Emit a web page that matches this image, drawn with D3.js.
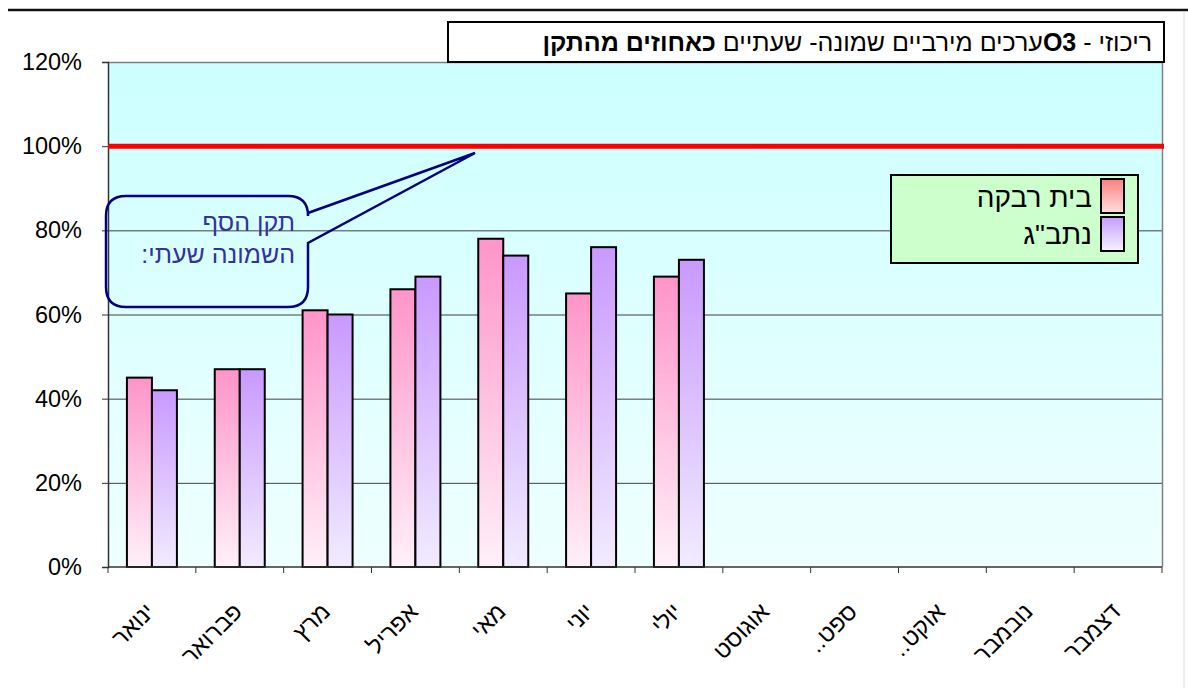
<!DOCTYPE html>
<html>
<head>
<meta charset="utf-8">
<script src="https://cdn.jsdelivr.net/npm/d3@7"></script>
<style>
body { margin: 0; background: white; }
svg { display: block; font-family: Arial, "Liberation Sans", "DejaVu Sans", sans-serif; }
</style>
</head>
<body>
<script>
// data
const months = ["ינואר", "פברואר", "מרץ", "אפריל", "מאי", "יוני", "יולי", "אוגוסט", "ספט..", "אוקט..", "נובמבר", "דצמבר"];
const seriesNames = ["בית רבקה", "נתב\"ג"];
const beitRivka = [0.45, 0.47, 0.61, 0.66, 0.78, 0.65, 0.69, null, null, null, null, null];
const natbag = [0.42, 0.47, 0.60, 0.69, 0.74, 0.76, 0.73, null, null, null, null, null];
const yTicks = [0, 0.2, 0.4, 0.6, 0.8, 1.0, 1.2];
const standard = 1.0;

const width = 1188, height = 688;
const margin = {top: 62, right: 26, bottom: 121, left: 108};

const svg = d3.select("body").append("svg").attr("width", width).attr("height", height);
const defs = svg.append("defs");

function vGrad(id, top, bottom) {
    const g = defs.append("linearGradient").attr("id", id)
        .attr("x1", 0).attr("y1", 0).attr("x2", 0).attr("y2", 1);
    g.append("stop").attr("offset", "0%").attr("stop-color", top);
    g.append("stop").attr("offset", "100%").attr("stop-color", bottom);
}
vGrad("bgGrad", "#ccffff", "#efffff");
vGrad("pinkGrad", "#ff94c9", "#fff0f8");
vGrad("purpleGrad", "#c999ff", "#f1ebff");
vGrad("pinkLeg", "#ff7f7f", "#ffdede");
vGrad("purpleLeg", "#c59cff", "#f6f2ff");

const x0 = margin.left, x1 = width - margin.right;
const y0 = height - margin.bottom, y1 = margin.top;

const xScale = d3.scaleBand().domain(months).range([x0, x1]);
const yScale = d3.scaleLinear().domain([0, 1.2]).range([y0, y1]);

// top rule of the page
svg.append("line").attr("x1", 8).attr("x2", width).attr("y1", 10).attr("y2", 10)
    .attr("stroke", "#111").attr("stroke-width", 2.5);
svg.append("line").attr("x1", 1184).attr("x2", 1184).attr("y1", 11).attr("y2", height)
    .attr("stroke", "#ddd").attr("stroke-width", 1);

// plot background
svg.append("rect").attr("x", x0).attr("y", y1).attr("width", x1 - x0).attr("height", y0 - y1)
    .attr("fill", "url(#bgGrad)");

// grid lines
svg.append("g").selectAll("line").data(yTicks.filter(d => d > 0 && d < 1.2)).join("line")
    .attr("x1", x0).attr("x2", x1)
    .attr("y1", d => yScale(d) + 0.5).attr("y2", d => yScale(d) + 0.5)
    .attr("stroke", "#404040").attr("stroke-width", 1);

// plot border top / right
svg.append("path")
    .attr("d", `M${x0},${y1 + 0.5}H${x1 + 0.5}V${y0}`)
    .attr("fill", "none").attr("stroke", "#808080").attr("stroke-width", 1.5);

// bars
const barW = 25;
const series = [
    {vals: beitRivka, fill: "url(#pinkGrad)", off: -barW},
    {vals: natbag, fill: "url(#purpleGrad)", off: 0}
];
series.forEach(s => {
    const data = months.map((m, i) => ({m: m, v: s.vals[i]})).filter(d => d.v != null);
    svg.append("g").selectAll("rect").data(data).join("rect")
        .attr("x", d => xScale(d.m) + xScale.bandwidth() / 2 + s.off)
        .attr("y", d => yScale(d.v))
        .attr("width", barW)
        .attr("height", d => yScale(0) - yScale(d.v))
        .attr("fill", s.fill)
        .attr("stroke", "#000").attr("stroke-width", 2);
});

// axes
const yAxis = d3.axisLeft(yScale).tickValues(yTicks).tickFormat(d3.format(".0%")).tickSize(6).tickPadding(20);
const yg = svg.append("g").attr("transform", `translate(${x0},0)`).call(yAxis);
yg.select(".domain").attr("stroke", "#333").attr("stroke-width", 1.5);
yg.selectAll(".tick line").attr("stroke", "#333");
yg.selectAll(".tick text").attr("font-size", 23.5).attr("fill", "#000")
    .attr("font-family", "Arial, 'Liberation Sans', sans-serif");

const xg = svg.append("g").attr("transform", `translate(0,${y0})`);
xg.append("line").attr("x1", x0).attr("x2", x1).attr("y1", 0).attr("y2", 0)
    .attr("stroke", "#333").attr("stroke-width", 1.5);
xg.selectAll("line.tk").data(d3.range(months.length + 1)).join("line").attr("class", "tk")
    .attr("x1", i => x0 + i * xScale.bandwidth()).attr("x2", i => x0 + i * xScale.bandwidth())
    .attr("y1", 0).attr("y2", 6).attr("stroke", "#333");
xg.selectAll("text").data(months).join("text")
    .attr("transform", d => `translate(${xScale(d) + xScale.bandwidth() / 2 + 4},${46}) rotate(-45)`)
    .attr("text-anchor", "end")
    .attr("font-size", 23.5)
    .attr("fill", "#000")
    .text(d => d + "\u200F");

// standard line (100%)
svg.append("line").attr("x1", x0).attr("x2", x1 + 2)
    .attr("y1", yScale(standard)).attr("y2", yScale(standard))
    .attr("stroke", "#ff0000").attr("stroke-width", 5);

// callout
const cb = {l: 106, t: 196, r: 308, b: 307, rad: 20};
const tip = [475, 153];
svg.append("path")
    .attr("d", `M${cb.l + cb.rad},${cb.t}H${cb.r - cb.rad}Q${cb.r},${cb.t} ${cb.r},${cb.t + cb.rad}` +
        `V213L${tip[0]},${tip[1]}L${cb.r},243V${cb.b - cb.rad}Q${cb.r},${cb.b} ${cb.r - cb.rad},${cb.b}` +
        `H${cb.l + cb.rad}Q${cb.l},${cb.b} ${cb.l},${cb.b - cb.rad}V${cb.t + cb.rad}Q${cb.l},${cb.t} ${cb.l + cb.rad},${cb.t}Z`)
    .attr("fill", "none").attr("stroke", "#000080").attr("stroke-width", 2.5);
const callLines = ["תקן  הסף", "השמונה שעתי:"];
svg.append("g").selectAll("text").data(callLines).join("text")
    .attr("x", 295).attr("y", (d, i) => 231 + i * 32)
    .attr("direction", "rtl").attr("text-anchor", "start")
    .attr("font-size", 25).attr("fill", "#333399")
    .text(d => d);

// title box
svg.append("rect").attr("x", 448).attr("y", 22).attr("width", 716).attr("height", 40)
    .attr("fill", "#fff").attr("stroke", "#000").attr("stroke-width", 2);
const title = svg.append("text").attr("x", 1152).attr("y", 51)
    .attr("direction", "rtl").attr("text-anchor", "start")
    .attr("font-size", 25).attr("fill", "#000");
title.append("tspan").text("ריכוזי  - ");
title.append("tspan").attr("font-weight", "bold").text("O3");
title.append("tspan").text("ערכים מירביים שמונה- שעתיים ");
title.append("tspan").attr("font-weight", "bold").text("כאחוזים מהתקן");

// legend
const leg = svg.append("g");
leg.append("rect").attr("x", 891).attr("y", 175).attr("width", 247).attr("height", 88)
    .attr("fill", "#ccffcc").attr("stroke", "#000").attr("stroke-width", 2);
const legFills = ["url(#pinkLeg)", "url(#purpleLeg)"];
seriesNames.forEach((n, i) => {
    leg.append("rect").attr("x", 1101).attr("y", 179 + i * 38).attr("width", 23).attr("height", 34)
        .attr("fill", legFills[i]).attr("stroke", "#000").attr("stroke-width", 2);
    leg.append("text").attr("x", 1092).attr("y", 207 + i * 37)
        .attr("direction", "rtl").attr("text-anchor", "start")
        .attr("font-size", 28).attr("fill", "#000").text(n);
});
</script>
</body>
</html>
